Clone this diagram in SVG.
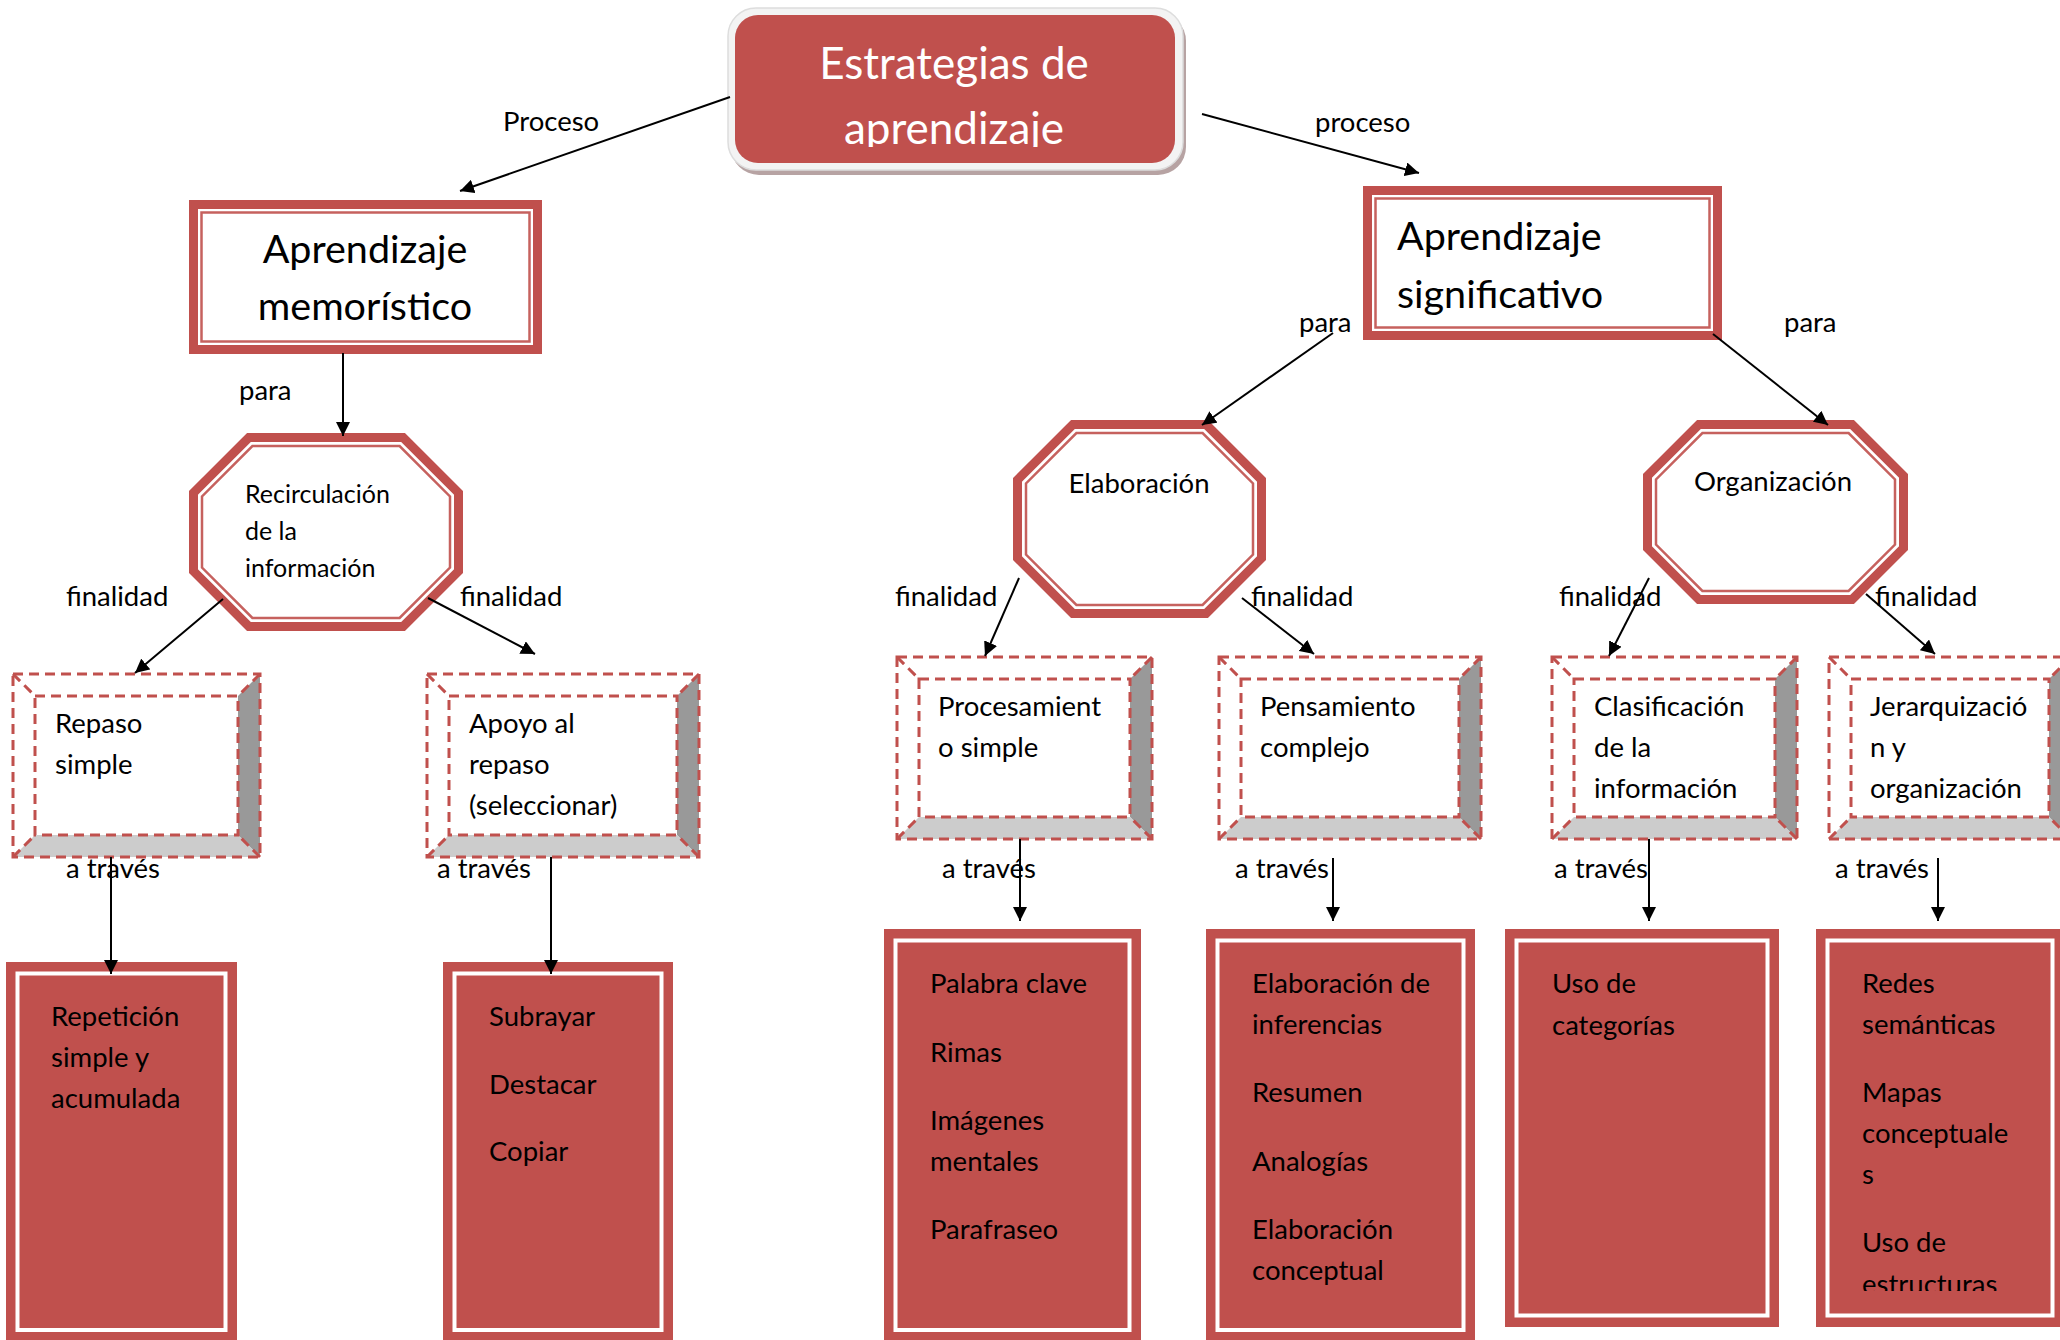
<svg xmlns="http://www.w3.org/2000/svg" width="2060" height="1340" viewBox="0 0 2060 1340">
<style>
text{font-family:Lato,"Liberation Sans",sans-serif;fill:#000}
.lbl{font-size:27.5px}
.t27{font-size:27.5px}
.big{font-size:39.5px}
.conn{stroke:#000;stroke-width:2;fill:none;marker-end:url(#arr)}
.thick{fill:#fff;stroke:#C0504D;stroke-width:9}
.thin{fill:none;stroke:#C0504D;stroke-width:2.5;stroke-opacity:.9}
.dash{fill:none;stroke:#C0504D;stroke-width:3;stroke-dasharray:10 6}
.dk{fill:#999}
.lt{fill:#ccc}
.rb{fill:#C0504D}
.wl{fill:none;stroke:#fff;stroke-width:4}
</style>
<defs>
<marker id="arr" markerUnits="userSpaceOnUse" markerWidth="16" markerHeight="14" refX="14" refY="7" orient="auto">
<path d="M0,0 L14,7 L0,14 z" fill="#000"/>
</marker>
<clipPath id="ctitle"><rect x="700" y="0" width="520" height="147"/></clipPath>
<clipPath id="credes"><rect x="1816" y="930" width="250" height="361"/></clipPath>
</defs>
<rect width="2060" height="1340" fill="#fff"/>

<g id="title">
<rect x="731" y="13" width="455" height="162" rx="28" fill="#b7a3a3"/>
<rect x="728" y="8" width="455" height="162" rx="28" fill="#f3f3f3" stroke="#ddd" stroke-width="1.5"/>
<rect x="735" y="15" width="440" height="148" rx="23" class="rb"/>
<g clip-path="url(#ctitle)">
<text x="954" y="79" text-anchor="middle" font-size="44" style="fill:#fff">Estrategias de</text>
<text x="954" y="144" text-anchor="middle" font-size="44" style="fill:#fff">aprendizaje</text>
</g>
</g>

<g id="memoristico">
<rect x="193.5" y="204.5" width="344" height="145" class="thick"/>
<rect x="201.5" y="212.5" width="328" height="129" class="thin"/>
<text x="365" y="263" text-anchor="middle" class="big">Aprendizaje</text>
<text x="365" y="320" text-anchor="middle" class="big">memorístico</text>
</g>

<g id="significativo">
<rect x="1367.5" y="190.5" width="350" height="145" class="thick"/>
<rect x="1375.5" y="198.5" width="334" height="129" class="thin"/>
<text x="1397" y="250" class="big">Aprendizaje</text>
<text x="1397" y="308" class="big">significativo</text>
</g>

<g id="recirculacion">
<polygon class="thick" points="248.9,437.5 403.1,437.5 458.5,492.9 458.5,571.1 403.1,626.5 248.9,626.5 193.5,571.1 193.5,492.9"/>
<polygon class="thin" points="252.4,446 399.6,446 450,496.4 450,567.6 399.6,618 252.4,618 202,567.6 202,496.4"/>
<text x="245" y="503" font-size="25">Recirculación</text>
<text x="245" y="540" font-size="25">de la</text>
<text x="245" y="577" font-size="25">información</text>
</g>

<g id="elaboracion">
<polygon class="thick" points="1072.9,424.5 1206.1,424.5 1261.5,479.9 1261.5,558.1 1206.1,613.5 1072.9,613.5 1017.5,558.1 1017.5,479.9"/>
<polygon class="thin" points="1076.4,433 1202.6,433 1253,483.4 1253,554.6 1202.6,605 1076.4,605 1026,554.6 1026,483.4"/>
<text x="1139" y="493" text-anchor="middle" class="t27">Elaboración</text>
</g>

<g id="organizacion">
<polygon class="thick" points="1698.9,424.5 1852.1,424.5 1903.5,475.9 1903.5,548.1 1852.1,599.5 1698.9,599.5 1647.5,548.1 1647.5,475.9"/>
<polygon class="thin" points="1702.4,433 1848.6,433 1895,479.4 1895,544.6 1848.6,591 1702.4,591 1656,544.6 1656,479.4"/>
<text x="1773" y="491" text-anchor="middle" class="t27">Organización</text>
</g>

<g id="repaso">
<rect x="13" y="674" width="247" height="183" fill="#fff"/>
<polygon class="dk" points="260,674 260,857 238,835 238,696"/>
<polygon class="lt" points="13,857 260,857 238,835 35,835"/>
<rect x="13" y="674" width="247" height="183" class="dash"/>
<rect x="35" y="696" width="203" height="139" class="dash"/>
<path class="dash" d="M13,674 L35,696 M260,674 L238,696 M13,857 L35,835 M260,857 L238,835"/>
<text x="55" y="733" class="t27">Repaso</text>
<text x="55" y="774" class="t27">simple</text>
</g>

<g id="apoyo">
<rect x="427" y="674" width="272" height="183" fill="#fff"/>
<polygon class="dk" points="699,674 699,857 677,835 677,696"/>
<polygon class="lt" points="427,857 699,857 677,835 449,835"/>
<rect x="427" y="674" width="272" height="183" class="dash"/>
<rect x="449" y="696" width="228" height="139" class="dash"/>
<path class="dash" d="M427,674 L449,696 M699,674 L677,696 M427,857 L449,835 M699,857 L677,835"/>
<text x="469" y="733" class="t27">Apoyo al</text>
<text x="469" y="774" class="t27">repaso</text>
<text x="469" y="815" class="t27">(seleccionar)</text>
</g>

<g id="procesamiento">
<rect x="897" y="657" width="255" height="182" fill="#fff"/>
<polygon class="dk" points="1152,657 1152,839 1130,817 1130,679"/>
<polygon class="lt" points="897,839 1152,839 1130,817 919,817"/>
<rect x="897" y="657" width="255" height="182" class="dash"/>
<rect x="919" y="679" width="211" height="138" class="dash"/>
<path class="dash" d="M897,657 L919,679 M1152,657 L1130,679 M897,839 L919,817 M1152,839 L1130,817"/>
<text x="938" y="716" class="t27">Procesamient</text>
<text x="938" y="757" class="t27">o simple</text>
</g>

<g id="pensamiento">
<rect x="1219" y="657" width="262" height="182" fill="#fff"/>
<polygon class="dk" points="1481,657 1481,839 1459,817 1459,679"/>
<polygon class="lt" points="1219,839 1481,839 1459,817 1241,817"/>
<rect x="1219" y="657" width="262" height="182" class="dash"/>
<rect x="1241" y="679" width="218" height="138" class="dash"/>
<path class="dash" d="M1219,657 L1241,679 M1481,657 L1459,679 M1219,839 L1241,817 M1481,839 L1459,817"/>
<text x="1260" y="716" class="t27">Pensamiento</text>
<text x="1260" y="757" class="t27">complejo</text>
</g>

<g id="clasificacion">
<rect x="1552" y="657" width="245" height="182" fill="#fff"/>
<polygon class="dk" points="1797,657 1797,839 1775,817 1775,679"/>
<polygon class="lt" points="1552,839 1797,839 1775,817 1574,817"/>
<rect x="1552" y="657" width="245" height="182" class="dash"/>
<rect x="1574" y="679" width="201" height="138" class="dash"/>
<path class="dash" d="M1552,657 L1574,679 M1797,657 L1775,679 M1552,839 L1574,817 M1797,839 L1775,817"/>
<text x="1594" y="716" class="t27">Clasificación</text>
<text x="1594" y="757" class="t27">de la</text>
<text x="1594" y="798" class="t27">información</text>
</g>

<g id="jerarquizacion">
<rect x="1829" y="657" width="242" height="182" fill="#fff"/>
<polygon class="dk" points="2071,657 2071,839 2049,817 2049,679"/>
<polygon class="lt" points="1829,839 2071,839 2049,817 1851,817"/>
<rect x="1829" y="657" width="242" height="182" class="dash"/>
<rect x="1851" y="679" width="198" height="138" class="dash"/>
<path class="dash" d="M1829,657 L1851,679 M2071,657 L2049,679 M1829,839 L1851,817 M2071,839 L2049,817"/>
<text x="1870" y="716" class="t27">Jerarquizació</text>
<text x="1870" y="757" class="t27">n y</text>
<text x="1870" y="798" class="t27">organización</text>
</g>

<g id="repeticion">
<rect x="6" y="962" width="231" height="390" class="rb"/>
<rect x="17.5" y="973.5" width="208" height="356.5" class="wl"/>
<text x="51" y="1026" class="t27">Repetición</text>
<text x="51" y="1067" class="t27">simple y</text>
<text x="51" y="1108" class="t27">acumulada</text>
</g>

<g id="subrayar">
<rect x="443" y="962" width="230" height="390" class="rb"/>
<rect x="454.5" y="973.5" width="207" height="356.5" class="wl"/>
<text x="489" y="1026" class="t27">Subrayar</text>
<text x="489" y="1094" class="t27">Destacar</text>
<text x="489" y="1161" class="t27">Copiar</text>
</g>

<g id="palabra">
<rect x="884" y="929" width="257" height="420" class="rb"/>
<rect x="895.5" y="940.5" width="234" height="389.5" class="wl"/>
<text x="930" y="993" class="t27">Palabra clave</text>
<text x="930" y="1062" class="t27">Rimas</text>
<text x="930" y="1130" class="t27">Imágenes</text>
<text x="930" y="1171" class="t27">mentales</text>
<text x="930" y="1239" class="t27">Parafraseo</text>
</g>

<g id="inferencias">
<rect x="1206" y="929" width="269" height="420" class="rb"/>
<rect x="1217.5" y="940.5" width="246" height="389.5" class="wl"/>
<text x="1252" y="993" class="t27">Elaboración de</text>
<text x="1252" y="1034" class="t27">inferencias</text>
<text x="1252" y="1102" class="t27">Resumen</text>
<text x="1252" y="1171" class="t27">Analogías</text>
<text x="1252" y="1239" class="t27">Elaboración</text>
<text x="1252" y="1280" class="t27">conceptual</text>
</g>

<g id="categorias">
<rect x="1505" y="929" width="274" height="398" class="rb"/>
<rect x="1516.5" y="940.5" width="251" height="375" class="wl"/>
<text x="1552" y="993" class="t27">Uso de</text>
<text x="1552" y="1035" class="t27">categorías</text>
</g>

<g id="redes">
<rect x="1816" y="929" width="250" height="398" class="rb"/>
<rect x="1827.5" y="940.5" width="225" height="375" class="wl"/>
<g clip-path="url(#credes)">
<text x="1862" y="993" class="t27">Redes</text>
<text x="1862" y="1034" class="t27">semánticas</text>
<text x="1862" y="1102" class="t27">Mapas</text>
<text x="1862" y="1143" class="t27">conceptuale</text>
<text x="1862" y="1184" class="t27">s</text>
<text x="1862" y="1252" class="t27">Uso de</text>
<text x="1862" y="1294" class="t27">estructuras</text>
</g>
</g>

<g id="connectors">
<path class="conn" d="M730,97 L460,191"/>
<path class="conn" d="M1202,114 L1419,173"/>
<path class="conn" d="M343,353 L343,436"/>
<path class="conn" d="M1333,333 L1202,425"/>
<path class="conn" d="M1713,334 L1828,425"/>
<path class="conn" d="M223,599 L135,673"/>
<path class="conn" d="M428,598 L535,654"/>
<path class="conn" d="M1019,578 L985,656"/>
<path class="conn" d="M1242,598 L1314,654"/>
<path class="conn" d="M1649,578 L1609,656"/>
<path class="conn" d="M1866,594 L1935,654"/>
<path class="conn" d="M111,857 L111,974"/>
<path class="conn" d="M551,857 L551,974"/>
<path class="conn" d="M1020,839 L1020,921"/>
<path class="conn" d="M1333,858 L1333,921"/>
<path class="conn" d="M1649,839 L1649,921"/>
<path class="conn" d="M1938,858 L1938,921"/>
<text x="503" y="131" class="lbl">Proceso</text>
<text x="1315" y="132" class="lbl">proceso</text>
<text x="239" y="400" class="lbl">para</text>
<text x="1299" y="332" class="lbl">para</text>
<text x="1784" y="332" class="lbl">para</text>
<text x="66" y="606" class="lbl">finalidad</text>
<text x="460" y="606" class="lbl">finalidad</text>
<text x="895" y="606" class="lbl">finalidad</text>
<text x="1251" y="606" class="lbl">finalidad</text>
<text x="1559" y="606" class="lbl">finalidad</text>
<text x="1875" y="606" class="lbl">finalidad</text>
<text x="66" y="878" class="lbl">a través</text>
<text x="437" y="878" class="lbl">a través</text>
<text x="942" y="878" class="lbl">a través</text>
<text x="1235" y="878" class="lbl">a través</text>
<text x="1554" y="878" class="lbl">a través</text>
<text x="1835" y="878" class="lbl">a través</text>
</g>
</svg>
